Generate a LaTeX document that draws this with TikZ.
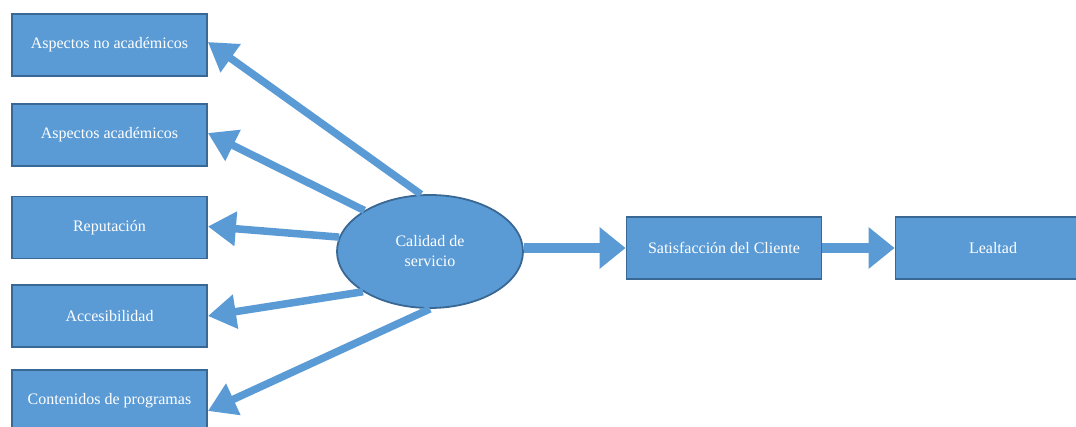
\documentclass[tikz,border=0pt]{standalone}
\usepackage{fontspec}
\setmainfont{Liberation Serif}
\usetikzlibrary{arrows.meta,shapes.geometric}
\definecolor{boxblue}{HTML}{5B9BD5}
\definecolor{edgeblue}{HTML}{3A6894}
\tikzset{
    factor/.style={draw=edgeblue, line width=1.8pt, fill=boxblue, text=white,
        minimum width=195pt, minimum height=62pt, inner sep=0pt,
        font=\fontsize{16}{19}\selectfont},
    core/.style={ellipse, draw=edgeblue, line width=1.8pt, fill=boxblue, text=white,
        minimum width=186pt, minimum height=113pt, inner sep=0pt, align=center,
        font=\fontsize{16}{20}\selectfont},
    slimarrow/.style={draw=boxblue, line width=7.5pt, -{Triangle[length=28pt, width=33pt]}},
    widearrow/.style={draw=boxblue, line width=10pt, -{Triangle[length=26pt, width=40pt]}}
}
\begin{document}
\begin{tikzpicture}[x=1pt, y=-1pt]
                \clip (0, 0) rectangle (1076, 427);
                \fill[white] (0, 0) rectangle (1076, 427);

                % dimensiones de la calidad
                \node[factor] (noacad) at (109.5, 45) {Aspectos no académicos};
                \node[factor] (acad) at (109.5, 135) {Aspectos académicos};
                \node[factor] (reput) at (109.5, 227.5) {Reputación};
                \node[factor] (acces) at (109.5, 316) {Accesibilidad};
                \node[factor] (progr) at (109.5, 401) {Contenidos de programas};

                \node[core] (calidad) at (430, 251.5) {Calidad de\\servicio};

                \node[factor] (satisf) at (724, 248) {Satisfacción del Cliente};
                \node[factor] (lealtad) at (993, 248) {Lealtad};

                \draw[slimarrow] (calidad.99) -- ([yshift=3pt]noacad.east);
                \draw[slimarrow] (calidad.148) -- ([yshift=2pt]acad.east);
                \draw[slimarrow] (calidad.171) -- ([yshift=1pt]reput.east);
                \draw[slimarrow] (calidad.211) -- (acces.east);
                \draw[slimarrow] (calidad.270) -- ([yshift=-10pt]progr.east);

                \draw[widearrow] (calidad.east |- satisf.west) -- (satisf.west);
                \draw[widearrow] (satisf.east) -- (lealtad.west);
            \end{tikzpicture}
\end{document}
